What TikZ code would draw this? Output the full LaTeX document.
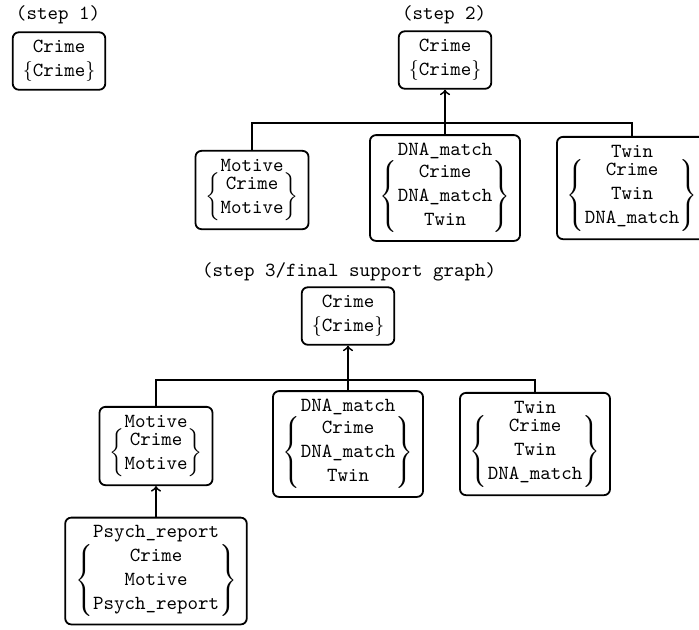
\documentclass[tikz,border=0pt]{standalone}
\usetikzlibrary{calc}
\tikzset{
  fact/.style={draw,rounded corners=3pt,align=center,inner xsep=5pt,inner ysep=4pt,line width=0.9pt},
  support/.style={->,line width=0.9pt},
  title/.style={font=\ttfamily},
}
\newcommand{\ev}[1]{\texttt{#1}}
\newcommand{\evset}[1]{$\left\{\begin{array}{@{}c@{}}#1\end{array}\right\}$}
\begin{document}
\begin{tikzpicture}[x=0.5pt,y=-0.5pt]
		\useasboundingbox (0,0) rectangle (699,629);
		% step 1
		\node [title] at (58,15) (t1) {(step 1)};
		\node [fact] at (59,61) (cr1) {\ev{Crime}\\ $\{\ev{Crime}\}$};
		% step 2
		\node [title] at (444,15) (t2) {(step 2)};
		\node [fact] at (445,60) (cr2) {\ev{Crime}\\ $\{\ev{Crime}\}$};
		\node [fact] at (252,190) (mot2) {\ev{Motive}\\ \evset{\ev{Crime}\\ \ev{Motive}}};
		\node [fact] at (445,188) (dna2) {\ev{DNA\_match}\\ \evset{\ev{Crime}\\ \ev{DNA\_match}\\ \ev{Twin}}};
		\node [fact] at (632,188) (tw2) {\ev{Twin}\\ \evset{\ev{Crime}\\ \ev{Twin}\\ \ev{DNA\_match}}};
		\coordinate (bar2) at (445,123);
		\draw [line width=0.9pt] (mot2.north) |- (bar2) -| (tw2.north);
		\draw [support] (dna2.north) -- (cr2.south);
		% step 3
		\node [title] at (349,272) (t3) {(step 3/final support graph)};
		\node [fact] at (348,316) (cr3) {\ev{Crime}\\ $\{\ev{Crime}\}$};
		\node [fact] at (156,446) (mot3) {\ev{Motive}\\ \evset{\ev{Crime}\\ \ev{Motive}}};
		\node [fact] at (348,444) (dna3) {\ev{DNA\_match}\\ \evset{\ev{Crime}\\ \ev{DNA\_match}\\ \ev{Twin}}};
		\node [fact] at (535,444) (tw3) {\ev{Twin}\\ \evset{\ev{Crime}\\ \ev{Twin}\\ \ev{DNA\_match}}};
		\node [fact] at (156,571) (psy) {\ev{Psych\_report}\\ \evset{\ev{Crime}\\ \ev{Motive}\\ \ev{Psych\_report}}};
		\coordinate (bar3) at (348,380);
		\draw [line width=0.9pt] (mot3.north) |- (bar3) -| (tw3.north);
		\draw [support] (dna3.north) -- (cr3.south);
		\draw [support] (psy.north) -- (mot3.south);
\end{tikzpicture}
\end{document}
